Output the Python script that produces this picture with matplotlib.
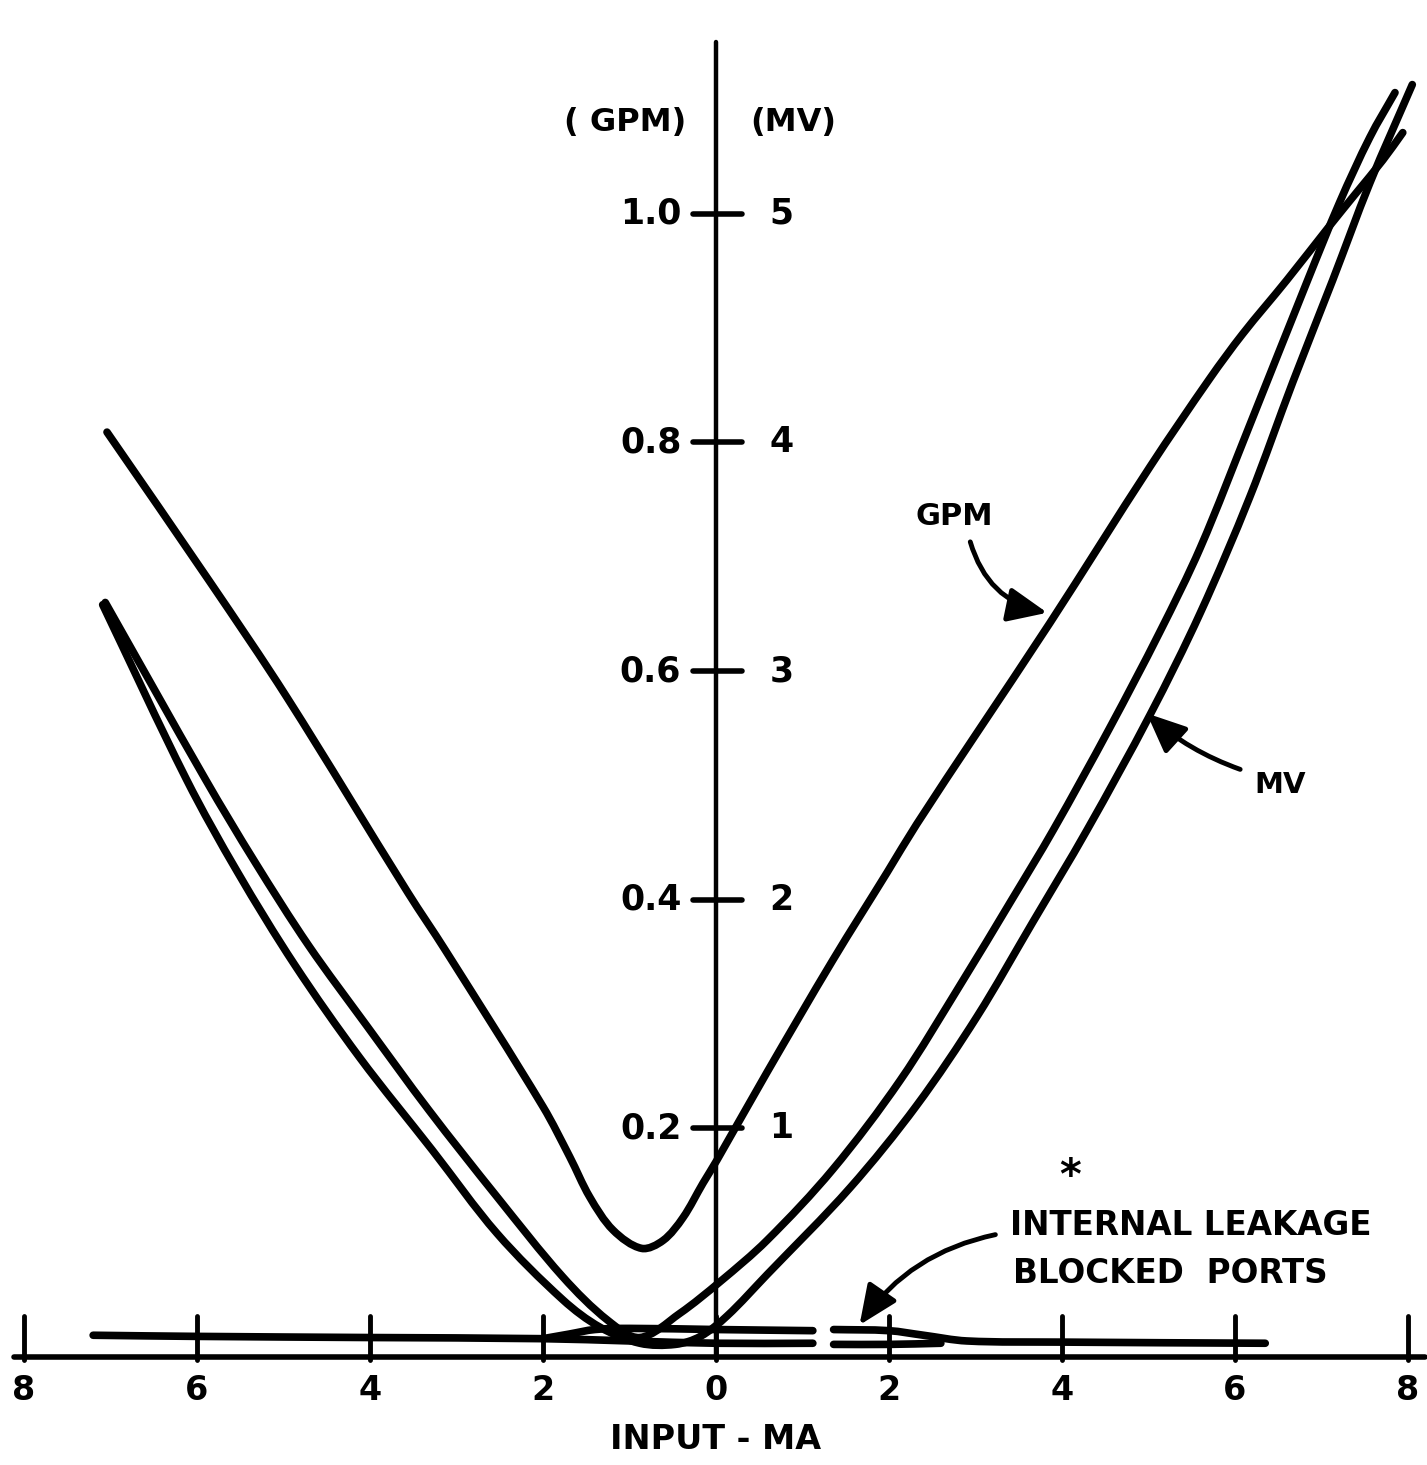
import matplotlib
matplotlib.use("Agg")
import matplotlib.pyplot as plt
import numpy as np
from matplotlib.path import Path
from matplotlib.patches import PathPatch

# flow curve (GPM), input in mA (negative = left side of the chart)
gpm_x = [-7.04, -5.85, -4.96, -3.56, -3.13, -2.00, -1.69, -1.46, -1.19, -0.86, -0.61, -0.38,
         -0.15, 0.01, 0.59, 1.35, 1.98, 2.32, 3.00, 3.86, 5.02, 5.71, 6.09, 6.60, 7.10, 7.41,
         7.71, 7.94]
gpm_y = [0.809, 0.678, 0.577, 0.406, 0.356, 0.219, 0.175, 0.140, 0.111, 0.095, 0.102, 0.122,
         0.152, 0.172, 0.249, 0.347, 0.424, 0.466, 0.544, 0.642, 0.779, 0.856, 0.895, 0.942,
         0.990, 1.019, 1.047, 1.071]

# MV curve, branch 1 (upper left -> inner right), in GPM-scale units
mv1_x = [-7.06, -5.90, -5.33, -4.71, -4.03, -3.32, -2.53, -1.77, -1.25, -0.88, -0.42, 0.05,
         0.59, 1.35, 2.13, 2.82, 3.42, 3.90, 4.55, 5.13, 5.60, 6.17, 6.83, 7.21, 7.56, 7.85]
mv1_y = [0.660, 0.505, 0.433, 0.360, 0.289, 0.216, 0.140, 0.070, 0.032, 0.017, 0.038, 0.066,
         0.102, 0.164, 0.242, 0.325, 0.400, 0.461, 0.550, 0.634, 0.708, 0.815, 0.940, 1.010,
         1.067, 1.106]

# MV curve, branch 2 (lower left -> outer right)
mv2_x = [-7.09, -6.12, -5.53, -4.87, -4.12, -3.28, -2.53, -1.77, -1.34, -0.88, -0.47, -0.18,
         0.13, 0.59, 1.55, 2.32, 3.02, 3.66, 4.29, 5.02, 5.60, 6.17, 6.67, 7.13, 7.56, 8.05]
mv2_y = [0.658, 0.505, 0.424, 0.343, 0.262, 0.181, 0.108, 0.050, 0.026, 0.012, 0.011, 0.018,
         0.036, 0.072, 0.148, 0.220, 0.298, 0.380, 0.461, 0.562, 0.651, 0.752, 0.853, 0.942,
         1.027, 1.113]

# internal leakage, blocked ports (broken near 1.2 mA)
leak_a_x = [-7.2, -6.0, -4.0, -2.0, -1.0, 0.0, 1.12]
leak_a_y = [0.019, 0.018, 0.017, 0.016, 0.014, 0.012, 0.012]
leak_b_x = [-2.0, -1.7, -1.4, -1.0, 0.0, 1.12]
leak_b_y = [0.016, 0.020, 0.024, 0.025, 0.024, 0.023]
leak_c_x = [1.36, 2.0, 2.4, 2.9, 4.0, 6.35]
leak_c_y = [0.024, 0.023, 0.019, 0.014, 0.013, 0.012]
leak_d_x = [1.36, 2.0, 2.6]
leak_d_y = [0.011, 0.011, 0.012]

x_ticks = [-8, -6, -4, -2, 0, 2, 4, 6, 8]
x_labels = ['8', '6', '4', '2', '0', '2', '4', '6', '8']
y_ticks = [0.2, 0.4, 0.6, 0.8, 1.0]
gpm_labels = ['0.2', '0.4', '0.6', '0.8', '1.0']
mv_labels = ['1', '2', '3', '4', '5']

ASPECT = 1143 / 86.5  # y unit vs x unit in pixels, only used for chord lengths


def smooth_curve(xs, ys):
    # cubic Bezier through the read points (tangents from neighbouring chords)
    p = np.column_stack([xs, ys]).astype(float)
    q = p * [1, ASPECT]
    d = np.hypot(*np.diff(q, axis=0).T)
    n = len(p)
    m = np.zeros_like(p)
    for i in range(n):
        if i == 0:
            m[i] = (p[1] - p[0]) / d[0]
        elif i == n - 1:
            m[i] = (p[-1] - p[-2]) / d[-1]
        else:
            m[i] = (p[i + 1] - p[i - 1]) / (d[i - 1] + d[i])
    verts = [p[0]]
    codes = [Path.MOVETO]
    for i in range(n - 1):
        verts += [p[i] + m[i] * d[i] / 3, p[i + 1] - m[i + 1] * d[i] / 3, p[i + 1]]
        codes += [Path.CURVE4] * 3
    return Path(verts, codes)


plt.rcParams['font.family'] = ['DejaVu Sans']
plt.rcParams['font.weight'] = 'bold'

fig = plt.figure(figsize=(14.27, 14.65), dpi=100)
ax = fig.add_axes([0, 0, 1, 1])
ax.set_xlim(-8.277, 8.22)
ax.set_ylim(-0.0945, 1.187)
ax.axis('off')

k = dict(color='black', solid_capstyle='round', solid_joinstyle='round')

# axes
ax.plot([-8.12, 8.2], [0, 0], lw=4, **k)
ax.plot([0, 0], [0, 1.15], lw=3.2, **k)
for xt, lab in zip(x_ticks, x_labels):
    ax.plot([xt, xt], [-0.003, 0.036], lw=3.5, **k)
    ax.text(xt, -0.029, lab, ha='center', va='center', fontsize=24, fontweight='bold')
for yt, gl, ml in zip(y_ticks, gpm_labels, mv_labels):
    ax.plot([-0.27, 0.3], [yt, yt], lw=4, **k)
    ax.text(-0.4, yt, gl, ha='right', va='center', fontsize=25, fontweight='bold')
    ax.text(0.62, yt, ml, ha='left', va='center', fontsize=25, fontweight='bold')
ax.text(-1.05, 1.080, '( GPM)', ha='center', va='center', fontsize=23, fontweight='bold')
ax.text(0.89, 1.080, '(MV)', ha='center', va='center', fontsize=23, fontweight='bold')
ax.text(0, -0.0726, 'INPUT - MA', ha='center', va='center', fontsize=24, fontweight='bold')

# curves
for cx, cy in [(gpm_x, gpm_y), (mv1_x, mv1_y), (mv2_x, mv2_y)]:
    ax.add_patch(PathPatch(smooth_curve(cx, cy), fill=False, lw=5.5, edgecolor='black',
                           capstyle='round', joinstyle='round'))
for lx, ly in [(leak_a_x, leak_a_y), (leak_b_x, leak_b_y), (leak_c_x, leak_c_y), (leak_d_x, leak_d_y)]:
    ax.add_patch(PathPatch(smooth_curve(lx, ly), fill=False, lw=5.5, edgecolor='black',
                           capstyle='round', joinstyle='round'))

# annotations
head = '-|>,head_length=0.8,head_width=0.35'
ax.text(2.76, 0.735, 'GPM', ha='center', va='center', fontsize=22, fontweight='bold')
ax.annotate('', xy=(3.83, 0.651), xytext=(2.94, 0.713),
            arrowprops=dict(arrowstyle=head, lw=3.5, color='black', mutation_scale=30,
                            connectionstyle='arc3,rad=0.3', shrinkA=0, shrinkB=0))
ax.text(6.52, 0.500, 'MV', ha='center', va='center', fontsize=21, fontweight='bold')
ax.annotate('', xy=(4.98, 0.563), xytext=(6.06, 0.514),
            arrowprops=dict(arrowstyle=head, lw=3.5, color='black', mutation_scale=30,
                            connectionstyle='arc3,rad=-0.1', shrinkA=0, shrinkB=0))
ax.text(4.09, 0.157, '*', ha='center', va='center', fontsize=30, fontweight='bold')
ax.text(3.40, 0.115, 'INTERNAL LEAKAGE', ha='left', va='center', fontsize=23.5, fontweight='bold')
ax.text(3.43, 0.073, 'BLOCKED  PORTS', ha='left', va='center', fontsize=23.5, fontweight='bold')
ax.annotate('', xy=(1.66, 0.028), xytext=(3.23, 0.107),
            arrowprops=dict(arrowstyle=head, lw=3.5, color='black', mutation_scale=30,
                            connectionstyle='arc3,rad=0.2', shrinkA=0, shrinkB=0))

fig.savefig('out.png', dpi=100)
